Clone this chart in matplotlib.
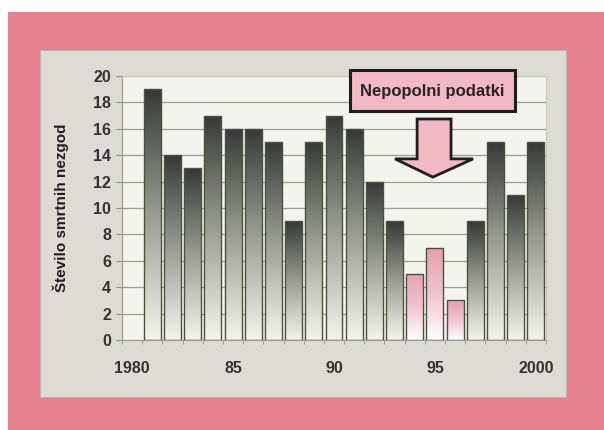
import numpy as np
import matplotlib
matplotlib.use("Agg")
import matplotlib.pyplot as plt
from matplotlib.patches import Rectangle, Polygon, FancyBboxPatch
from matplotlib.colors import LinearSegmentedColormap

plt.rcParams['font.family'] = ['Liberation Sans', 'DejaVu Sans']

years = list(range(1981, 2001))
deaths = [19, 14, 13, 17, 16, 16, 15, 9, 15, 17, 16, 12, 9, 5, 7, 3, 9, 15, 11, 15]
incomplete_years = [1994, 1995, 1996]
xtick_pos = [1980, 1985, 1990, 1995, 2000]
xtick_labels = ["1980", "85", "90", "95", "2000"]
yticks = list(range(0, 21, 2))
ylabel = "Število smrtnih nezgod"
note = "Nepopolni podatki"

fig = plt.figure(figsize=(6.04, 4.30), dpi=100)
fig.patch.set_facecolor('white')
# pink frame and grey panel
fig.patches.append(Rectangle((0.013, 0.0), 0.99, 0.972, transform=fig.transFigure,
                             facecolor='#e6818f', edgecolor='none', zorder=-3))
fig.patches.append(Rectangle((0.066, 0.0767), 0.871, 0.807, transform=fig.transFigure,
                             facecolor='#dcdbd5', edgecolor='#b8b8b0', lw=0.8, zorder=-2))

ax = fig.add_axes([0.202, 0.2093, 0.702, 0.614])
ax.set_facecolor('#f3f3ef')

grey_cmap = LinearSegmentedColormap.from_list('g', ['#f4f4ee', '#9a9c94', '#343a36'])
pink_cmap = LinearSegmentedColormap.from_list('p', ['#ffffff', '#f0c4d0', '#e4a0b2'])
grad = np.linspace(0, 1, 256).reshape(-1, 1)

bars = ax.bar(years, deaths, width=0.84, facecolor='none',
              edgecolor='#4c5040', linewidth=1.0, zorder=3)
for b, yr, v in zip(bars, years, deaths):
    cmap = pink_cmap if yr in incomplete_years else grey_cmap
    x0 = b.get_x()
    im = ax.imshow(grad, cmap=cmap, origin='lower', aspect='auto',
                   extent=(x0, x0 + b.get_width(), 0, v), zorder=2)
    im.set_clip_path(b)
ax.set_xlim(1979.5, 2000.5)
ax.set_ylim(0, 20)

ax.set_yticks(yticks)
ax.yaxis.grid(True, color='#9c9c94', lw=0.9)
ax.set_axisbelow(True)
ax.set_xticks(xtick_pos)
ax.set_xticklabels(xtick_labels)
ax.set_xticks(np.arange(1979.5, 2001, 1), minor=True)
ax.tick_params(axis='x', which='major', length=0, pad=15)
ax.tick_params(axis='x', which='minor', length=3, color='#909088')
ax.tick_params(axis='y', length=4, color='#909088', pad=4)
for lab in ax.get_xticklabels() + ax.get_yticklabels():
    lab.set_fontweight('bold')
    lab.set_fontsize(11.5)
    lab.set_color('#333333')
for s in ['top', 'right']:
    ax.spines[s].set_color('#c8c8c0')
for s in ['left', 'bottom']:
    ax.spines[s].set_color('#9a9a90')

ax.set_ylabel(ylabel, fontsize=11, fontweight='bold', color='#1e1e1e')
ax.yaxis.set_label_coords(-0.125, 0.5)

# annotation box
box = FancyBboxPatch((0.537, 0.866), 0.39, 0.155, boxstyle='square,pad=0',
                     transform=ax.transAxes, facecolor='#f2b8c4', edgecolor='#1e1e1e',
                     lw=2.2, zorder=6, clip_on=False)
ax.add_patch(box)
ax.text(0.732, 0.943, note, transform=ax.transAxes, ha='center', va='center',
        fontsize=12, fontweight='bold', color='#262626', zorder=7)

arrow = Polygon([(0.696, 0.837), (0.776, 0.837), (0.776, 0.686), (0.828, 0.686),
                 (0.733, 0.617), (0.644, 0.686), (0.696, 0.686)],
                closed=True, transform=ax.transAxes, facecolor='#f2b8c4',
                edgecolor='#1e1e1e', lw=2.0, zorder=6, clip_on=False)
ax.add_patch(arrow)

fig.savefig('out.png', dpi=100)
